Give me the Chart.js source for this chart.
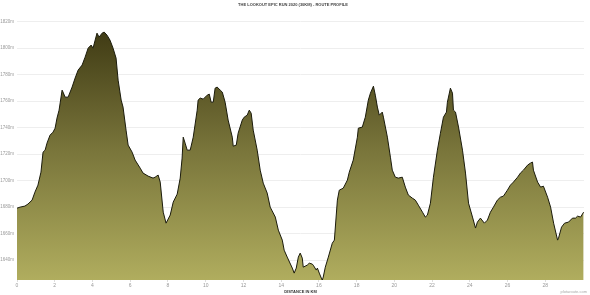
<!DOCTYPE html>
<html>
<head>
<meta charset="utf-8">
<script src="https://cdn.jsdelivr.net/npm/chart.js@4/dist/chart.umd.min.js"></script>
<style>
html,body{margin:0;padding:0;background:#fff;}
#wrap{width:590px;height:295px;position:relative;}
</style>
</head>
<body>
<div id="wrap"><canvas id="c" width="590" height="295"></canvas></div>
<script>
const chartTitle = "THE LOOKOUT EPIC RUN 2020 (30KM) - ROUTE PROFILE";
const xAxisTitle = "DISTANCE IN KM";
const watermark = "plotaroute.com";

const distKm = [0.00,0.16,0.42,0.58,0.80,0.95,1.11,1.27,1.38,1.49,1.59,1.75,1.91,2.02,2.12,2.23,2.39,2.44,2.55,2.71,2.92,3.08,3.24,3.45,3.61,3.77,3.93,4.03,4.24,4.35,4.51,4.62,4.77,4.93,5.09,5.25,5.36,5.52,5.62,5.78,5.89,6.10,6.26,6.53,6.68,6.95,7.21,7.32,7.48,7.59,7.75,7.90,8.12,8.28,8.49,8.65,8.75,8.81,8.91,9.02,9.18,9.34,9.55,9.60,9.71,9.87,10.08,10.19,10.29,10.40,10.50,10.61,10.77,10.88,11.03,11.19,11.41,11.46,11.62,11.72,11.94,12.04,12.20,12.31,12.41,12.52,12.73,12.89,13.05,13.26,13.42,13.69,13.85,14.06,14.16,14.32,14.59,14.69,14.80,14.91,15.01,15.12,15.17,15.38,15.49,15.65,15.70,15.86,15.92,16.02,16.13,16.18,16.23,16.34,16.50,16.71,16.82,16.98,17.08,17.29,17.51,17.61,17.82,18.04,18.09,18.30,18.46,18.62,18.73,18.89,18.99,19.10,19.20,19.36,19.42,19.63,19.79,19.89,20.05,20.21,20.42,20.58,20.74,20.95,21.11,21.27,21.49,21.64,21.75,21.91,22.07,22.28,22.44,22.60,22.76,22.81,22.97,23.08,23.13,23.24,23.40,23.61,23.77,23.93,24.14,24.30,24.40,24.56,24.77,24.93,25.09,25.25,25.46,25.62,25.78,25.99,26.15,26.31,26.53,26.68,26.84,27.06,27.21,27.32,27.37,27.59,27.75,27.90,28.12,28.28,28.44,28.65,28.70,28.86,29.02,29.23,29.44,29.60,29.71,29.87,30.03];

const elevM = [1679.2,1680.0,1680.8,1682.3,1685.3,1691.3,1696.6,1706.4,1721.5,1723.0,1728.3,1734.3,1736.6,1739.6,1747.2,1753.2,1768.3,1766.8,1763.0,1763.0,1770.6,1777.4,1783.4,1787.2,1793.2,1800.0,1802.3,1800.0,1811.3,1808.3,1811.3,1812.1,1809.8,1806.0,1800.0,1792.5,1775.8,1760.8,1755.5,1738.1,1726.8,1721.5,1715.5,1709.4,1705.7,1703.4,1701.9,1702.6,1704.2,1698.9,1676.2,1667.9,1674.0,1683.8,1689.8,1701.9,1717.0,1732.8,1728.3,1723.0,1723.0,1732.8,1753.2,1760.8,1762.3,1761.5,1764.5,1765.3,1759.2,1759.2,1769.8,1770.6,1768.3,1766.8,1759.2,1745.7,1732.8,1726.0,1726.8,1735.8,1745.7,1747.9,1749.4,1753.2,1750.9,1738.1,1723.0,1707.9,1698.1,1690.6,1680.0,1672.5,1662.6,1655.1,1647.5,1642.3,1634.0,1630.2,1634.0,1642.3,1645.3,1641.5,1634.7,1636.2,1637.7,1637.0,1636.2,1632.5,1634.0,1630.2,1626.4,1624.9,1627.2,1634.7,1642.3,1652.8,1655.1,1685.3,1692.8,1694.3,1700.4,1706.4,1715.5,1732.8,1739.6,1740.4,1747.9,1760.8,1766.0,1771.3,1764.5,1755.5,1749.4,1751.7,1747.9,1732.8,1717.7,1707.9,1702.6,1701.9,1702.6,1695.1,1689.1,1686.8,1685.3,1681.5,1676.2,1672.5,1674.0,1683.0,1702.6,1723.0,1735.8,1747.9,1751.7,1759.2,1769.8,1766.0,1753.2,1751.7,1740.4,1723.0,1705.7,1683.0,1672.5,1664.2,1668.7,1671.7,1667.9,1670.2,1676.2,1680.0,1685.3,1687.5,1688.3,1692.8,1696.6,1698.9,1702.6,1705.7,1707.9,1711.7,1713.2,1714.0,1707.9,1698.9,1695.1,1695.8,1687.5,1680.0,1667.9,1655.1,1656.6,1664.9,1667.9,1668.7,1671.7,1671.7,1673.2,1672.5,1676.2];

const yTicks = [1640,1660,1680,1700,1720,1740,1760,1780,1800,1820];
const xTicks = [0,2,4,6,8,10,12,14,16,18,20,22,24,26,28];

const points = distKm.map((d,i)=>({x:d,y:elevM[i]}));

const textPlugin = {
  id:'texts',
  afterDraw(chart){
    const ctx = chart.ctx;
    ctx.save();
    ctx.textAlign='center';
    ctx.textBaseline='middle';
    ctx.fillStyle='#444';
    ctx.font='bold 4px "Liberation Sans", Arial, sans-serif';
    ctx.fillText(chartTitle, 293, 5);
    ctx.textAlign='right';
    ctx.fillStyle='#aaa';
    ctx.font='4px "Liberation Sans", Arial, sans-serif';
    ctx.fillText(watermark, 587, 292);
    ctx.restore();
  }
};

const ctx = document.getElementById('c').getContext('2d');
new Chart(ctx,{
  type:'line',
  data:{datasets:[{
    data:points,
    borderColor:'#1a1a0a',
    borderWidth:1,
    pointRadius:0,
    tension:0,
    fill:'start',
    backgroundColor:(c)=>{
      const a=c.chart.chartArea;
      if(!a) return '#777';
      const g=c.chart.ctx.createLinearGradient(0,a.top,0,a.bottom);
      g.addColorStop(0,'#38330f');
      g.addColorStop(0.5,'#78743a');
      g.addColorStop(1,'#b0ad5e');
      return g;
    }
  }]},
  options:{
    responsive:false,
    animation:false,
    layout:{padding:{left:0,right:6,top:15,bottom:0}},
    plugins:{legend:{display:false},tooltip:{enabled:false},title:{display:false}},
    scales:{
      x:{
        type:'linear',min:0,max:30.05,
        afterBuildTicks:(s)=>{s.ticks=xTicks.map(v=>({value:v}));},
        afterFit:(s)=>{s.height=15;},
        grid:{display:true,drawOnChartArea:false,drawTicks:true,tickLength:2,color:'#ddd'},
        border:{display:false},
        ticks:{font:{size:5,family:'"Liberation Sans", Arial, sans-serif'},color:'#999',padding:1,maxRotation:0,autoSkip:false},
        title:{display:true,text:xAxisTitle,font:{size:4,weight:'bold',family:'"Liberation Sans", Arial, sans-serif'},color:'#333',padding:{top:0,bottom:1}}
      },
      y:{
        min:1625,max:1825,
        afterBuildTicks:(s)=>{s.ticks=yTicks.map(v=>({value:v}));},
        afterFit:(s)=>{s.width=17;},
        grid:{color:'#eeeeee',lineWidth:1,drawTicks:false},
        border:{display:false},
        ticks:{font:{size:4.5,family:'"Liberation Sans", Arial, sans-serif'},color:'#999',padding:3,callback:(v)=>v+'m'}
      }
    }
  },
  plugins:[textPlugin]
});
</script>
</body>
</html>
